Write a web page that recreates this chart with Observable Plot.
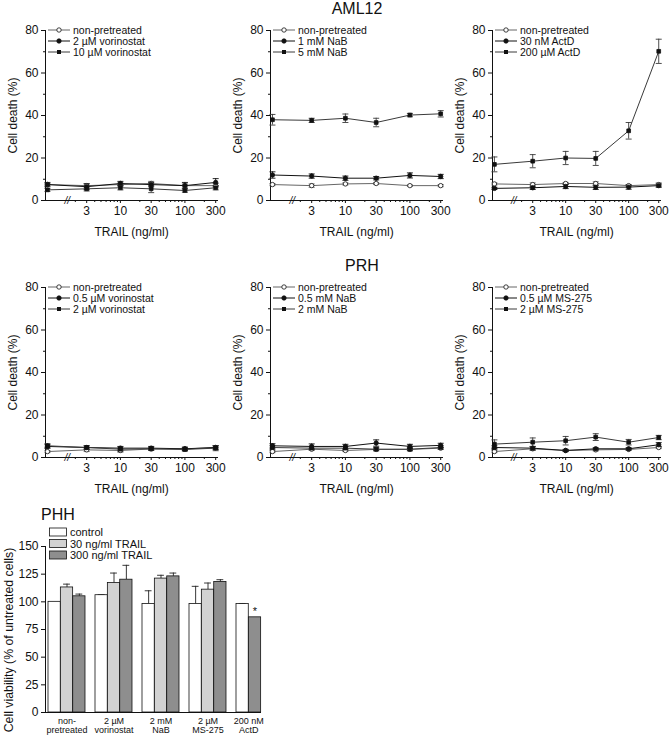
<!DOCTYPE html>
<html><head><meta charset="utf-8">
<script src="https://cdn.jsdelivr.net/npm/d3@7"></script>
<script src="https://cdn.jsdelivr.net/npm/@observablehq/plot@0.6"></script>
<style>
body{margin:0;background:#fff;}
#page{position:relative;width:669px;height:736px;overflow:hidden;background:#fff;font-family:"Liberation Sans",Arial,Helvetica,sans-serif;}
#page > div.plot{position:absolute;}
#overlay{position:absolute;left:0;top:0;pointer-events:none;}
</style></head><body><div id="page"></div>
<script>
// ---------- data ----------
const doses = [0, 3, 10, 30, 100, 300];
const zeroDosePos = 0.74;          // where the 0 ng/ml dose sits left of the axis break
const breakPos = 1.5;              // axis break "//"
const majorXTicks = [3, 10, 30, 100, 300];
const minorXTicks = [2, 4, 5, 6, 7, 8, 9, 20, 40, 50, 60, 70, 80, 90, 200];
const majorYTicks = [0, 20, 40, 60, 80];
const minorYTicks = [10, 30, 50, 70];

// AML12 – vorinostat
const amlVorLabels = ["non-pretreated", "2 µM vorinostat", "10 µM vorinostat"];
const amlVorNp = [7.5, 7, 7.5, 8, 7, 7];       const amlVorNpErr = [0.5, 1, 0.8, 1, 0.8, 1];
const amlVorLow = [7.5, 6.5, 8, 7.5, 7, 8.5];  const amlVorLowErr = [1, 1.3, 1, 1, 1.5, 1.8];
const amlVorHigh = [5, 5.5, 6, 5.5, 4.7, 6];   const amlVorHighErr = [0.7, 1, 1, 1.8, 0.8, 1];
// AML12 – NaB
const amlNabLabels = ["non-pretreated", "1 mM NaB", "5 mM NaB"];
const amlNabNp = [7.5, 7, 7.8, 8, 7, 7];              const amlNabNpErr = [0.5, 0.8, 0.5, 0.5, 0.3, 0.5];
const amlNabLow = [12, 11.5, 10.5, 10.5, 11.8, 11.3]; const amlNabLowErr = [1.5, 1, 1, 0.8, 1.2, 1];
const amlNabHigh = [38, 37.7, 38.7, 36.7, 40.2, 40.8]; const amlNabHighErr = [2.5, 1, 2, 2, 0.8, 1.5];
// AML12 – ActD
const amlActLabels = ["non-pretreated", "30 nM ActD", "200 µM ActD"];
const amlActNp = [7.8, 7.5, 8, 8, 7, 7.5];         const amlActNpErr = [0.5, 0.8, 0.5, 0.8, 0.5, 0.8];
const amlActLow = [5.7, 6, 6.6, 6.2, 6.3, 7];      const amlActLowErr = [0.5, 0.8, 1, 1, 1, 0.8];
const amlActHigh = [17, 18.5, 20, 19.8, 32.8, 70.2]; const amlActHighErr = [3.5, 3.1, 3.1, 3.3, 3.9, 5.7];
// PRH – vorinostat
const prhVorLabels = ["non-pretreated", "0.5 µM vorinostat", "2 µM vorinostat"];
const prhVorNp = [2.8, 3.6, 3.3, 4, 4, 4.7];     const prhVorNpErr = [0.5, 0.8, 0.8, 0.5, 0.5, 0.8];
const prhVorLow = [5.2, 4.7, 4.4, 4.4, 4.1, 4.7]; const prhVorLowErr = [0.8, 0.8, 0.8, 0.8, 0.8, 0.8];
const prhVorHigh = [5.5, 4.7, 3.9, 4.1, 3.8, 4.4]; const prhVorHighErr = [1, 0.8, 1, 0.8, 0.8, 1.2];
// PRH – NaB
const prhNabLabels = ["non-pretreated", "0.5 mM NaB", "2 mM NaB"];
const prhNabNp = [2.8, 3.9, 3.3, 3.8, 3.8, 4.4];  const prhNabNpErr = [0.5, 0.5, 0.5, 0.5, 0.5, 0.5];
const prhNabLow = [5.5, 5.2, 5.2, 6.8, 5.2, 5.7]; const prhNabLowErr = [1, 1.2, 1, 1.5, 1, 1];
const prhNabHigh = [4.7, 4.4, 4.4, 3.9, 3.9, 4.7]; const prhNabHighErr = [0.8, 0.8, 0.8, 0.8, 0.8, 0.8];
// PRH – MS-275
const prhMsLabels = ["non-pretreated", "0.5 µM MS-275", "2 µM MS-275"];
const prhMsNp = [2.8, 4.1, 3.3, 3.6, 3.8, 4.7];   const prhMsNpErr = [0.5, 0.8, 0.5, 0.5, 0.5, 0.5];
const prhMsLow = [4.7, 4.4, 3.3, 4.1, 4.1, 6];    const prhMsLowErr = [0.8, 0.8, 0.5, 0.5, 0.5, 1];
const prhMsHigh = [6.3, 7.2, 7.9, 9.6, 7.2, 9.4]; const prhMsHighErr = [2, 2, 2, 1.6, 1.3, 1];

// PHH bar chart
const phhGroups = ["non-\npretreated", "2 µM\nvorinostat", "2 mM\nNaB", "2 µM\nMS-275", "200 nM\nActD"];
const phhConds = ["control", "30 ng/ml TRAIL", "300 ng/ml TRAIL"];
const phhControl = [100, 106, 98, 98, 98];   const phhControlErr = [0, 0.5, 12, 16, 0.5];
const phhT30 = [113, 117, 121, 111, null];    const phhT30Err = [3, 9, 3, 6, null];
const phhT300 = [105, 120, 123, 118, 86];     const phhT300Err = [2, 13, 3, 2, 0];
const phhT300Sig = ["", "", "", "", "*"];
const phhYTicks = [0, 25, 50, 75, 100, 125, 150];

// ---------- styling ----------
const FONT = '"Liberation Sans", Arial, Helvetica, sans-serif';
const seriesStroke = ["#666", "#111", "#3a3a3a"];
const seriesSymbol = ["circle", "circle", "square"];
const seriesFill = ["white", "#111", "#111"];
const condFill = ["#ffffff", "#d2d2d2", "#8e8e8e"];
const capSymbol = {draw(ctx, size) { const r = Math.sqrt(size / Math.PI); ctx.moveTo(-r, 0); ctx.lineTo(r, 0); }};

const page = document.getElementById("page");
const xDomain = [0.69, 320];

const panels = [
  {col: 0, row: 0, labels: amlVorLabels, vals: [amlVorNp, amlVorLow, amlVorHigh], errs: [amlVorNpErr, amlVorLowErr, amlVorHighErr]},
  {col: 1, row: 0, labels: amlNabLabels, vals: [amlNabNp, amlNabLow, amlNabHigh], errs: [amlNabNpErr, amlNabLowErr, amlNabHighErr]},
  {col: 2, row: 0, labels: amlActLabels, vals: [amlActNp, amlActLow, amlActHigh], errs: [amlActNpErr, amlActLowErr, amlActHighErr]},
  {col: 0, row: 1, labels: prhVorLabels, vals: [prhVorNp, prhVorLow, prhVorHigh], errs: [prhVorNpErr, prhVorLowErr, prhVorHighErr]},
  {col: 1, row: 1, labels: prhNabLabels, vals: [prhNabNp, prhNabLow, prhNabHigh], errs: [prhNabNpErr, prhNabLowErr, prhNabHighErr]},
  {col: 2, row: 1, labels: prhMsLabels, vals: [prhMsNp, prhMsLow, prhMsHigh], errs: [prhMsNpErr, prhMsLowErr, prhMsHighErr]}
];
const colLeft = [0, 225, 447];
const colWidth = [220, 220, 216];
const rowTop = [0, 257];
const ML = 45, MT = 30;

function place(el, left, top) {
  const d = document.createElement("div");
  d.className = "plot";
  d.style.left = left + "px"; d.style.top = top + "px";
  d.appendChild(el); page.appendChild(d);
}

for (const p of panels) {
  const rows = [];
  p.vals.forEach((vals, si) => vals.forEach((v, i) => rows.push({s: si, pos: doses[i] === 0 ? zeroDosePos : doses[i], v, e: p.errs[si][i]})));
  const marks = [
    Plot.frame({anchor: "left", stroke: "#111"}),
    Plot.frame({anchor: "bottom", stroke: "#111"}),
    Plot.axisY({ticks: majorYTicks, tickSize: 4, tickPadding: 3, label: "Cell death (%)", labelAnchor: "center", labelArrow: "none", labelOffset: 37, fontSize: 12}),
    Plot.axisY({ticks: minorYTicks, tickSize: 2, tickFormat: () => "", label: null}),
    Plot.axisX({ticks: majorXTicks, tickSize: 3, tickPadding: 3, tickFormat: d => String(d), label: "TRAIL (ng/ml)", labelAnchor: "center", labelArrow: "none", labelOffset: 35, fontSize: 12}),
    Plot.axisX({ticks: minorXTicks, tickSize: 2, tickFormat: () => "", label: null}),
    Plot.text(["//"], {x: breakPos, y: 0, text: d => d, fontSize: 10, fontStyle: "italic", fill: "#111"})
  ];
  for (let si = 0; si < 3; si++) {
    const sr = rows.filter(r => r.s === si);
    marks.push(Plot.line(sr, {x: "pos", y: "v", stroke: seriesStroke[si], strokeWidth: 1}));
    marks.push(Plot.ruleX(sr, {x: "pos", y1: d => d.v - d.e, y2: d => d.v + d.e, stroke: seriesStroke[si], strokeWidth: 0.9}));
    marks.push(Plot.dot(sr, {x: "pos", y: d => d.v + d.e, symbol: capSymbol, r: 3, fill: "none", stroke: seriesStroke[si], strokeWidth: 0.9}));
    marks.push(Plot.dot(sr, {x: "pos", y: d => d.v - d.e, symbol: capSymbol, r: 3, fill: "none", stroke: seriesStroke[si], strokeWidth: 0.9}));
  }
  for (let si = 0; si < 3; si++) {
    const sr = rows.filter(r => r.s === si);
    marks.push(Plot.dot(sr, {x: "pos", y: "v", symbol: seriesSymbol[si], r: si === 2 ? 2.1 : 2.2, fill: seriesFill[si], stroke: "#111", strokeWidth: 0.8}));
  }
  const chart = Plot.plot({
    width: colWidth[p.col], height: 244, marginLeft: ML, marginRight: 3, marginTop: MT, marginBottom: 44,
    style: {fontFamily: FONT, fontSize: "12px", color: "#111", background: "transparent", overflow: "visible"},
    x: {type: "log", domain: xDomain},
    y: {domain: [0, 80]},
    marks
  });
  place(chart, colLeft[p.col], rowTop[p.row]);
}

// ---------- PHH bar chart ----------
const barRows = [];
phhGroups.forEach((g, gi) => {
  const vals = [phhControl[gi], phhT30[gi], phhT300[gi]];
  const errs = [phhControlErr[gi], phhT30Err[gi], phhT300Err[gi]];
  let slot = 0;
  vals.forEach((v, ci) => {
    if (v == null) return;
    barRows.push({group: g, cond: ci, slot, v, e: errs[ci], sig: ci === 2 ? phhT300Sig[gi] : ""});
    slot++;
  });
});
const bRange = [48, 273.5], bPadInner = 0.2128;
const bStep = (bRange[1] - bRange[0]) / (phhGroups.length - bPadInner);
const bBand = bStep * (1 - bPadInner);
const w = bBand / 3;
const barMarks = [
  Plot.frame({anchor: "left", stroke: "#111"}),
  Plot.frame({anchor: "bottom", stroke: "#111"}),
  Plot.axisY({ticks: phhYTicks, tickSize: 4, tickPadding: 3, label: null, fontSize: 12}),
  Plot.axisX(phhGroups.slice(0, 4), {tickSize: 0, tickPadding: 4, label: null, fontSize: 9, lineHeight: 1.1}),
  Plot.axisX(phhGroups.slice(4), {tickSize: 0, tickPadding: 4, label: null, fontSize: 9, lineHeight: 1.1, dx: -w / 2})
];
for (let k = 0; k < 3; k++) {
  const sr = barRows.filter(r => r.slot === k);
  const er = sr.filter(r => r.e > 0);
  barMarks.push(Plot.ruleX(er, {x: "group", y1: "v", y2: d => d.v + d.e, dx: (k - 1) * w, stroke: "#222", strokeWidth: 0.9}));
  barMarks.push(Plot.tickY(er, {x: "group", y: d => d.v + d.e, insetLeft: k * w + w * 0.22, insetRight: (2 - k) * w + w * 0.22, stroke: "#222", strokeWidth: 0.9}));
  barMarks.push(Plot.barY(sr, {x: "group", y: "v", fill: d => condFill[d.cond], stroke: "#111", strokeWidth: 0.8, insetLeft: k * w, insetRight: (2 - k) * w}));
  barMarks.push(Plot.text(sr.filter(r => r.sig), {x: "group", y: "v", text: "sig", dx: (k - 1) * w, dy: -6, fontSize: 11, fill: "#111"}));
}
const barChart = Plot.plot({
  width: 263, height: 236, marginLeft: 45, marginRight: 3, marginTop: 46, marginBottom: 24,
  style: {fontFamily: FONT, fontSize: "12px", color: "#111", background: "transparent", overflow: "visible"},
  x: {type: "band", domain: phhGroups, range: bRange, paddingInner: bPadInner, paddingOuter: 0, align: 0},
  y: {domain: [0, 150]},
  color: {type: "identity"},
  marks: barMarks
});
place(barChart, 0, 500);

// ---------- overlay: titles & legends ----------
const svg = d3.select(page).append("svg").attr("id", "overlay").attr("width", 669).attr("height", 736)
  .style("font-family", FONT).style("fill", "#111");
svg.append("text").attr("x", 357).attr("y", 14).attr("text-anchor", "middle").attr("font-size", 16).text("AML12");
svg.append("text").attr("x", 362).attr("y", 271).attr("text-anchor", "middle").attr("font-size", 16).text("PRH");
svg.append("text").attr("x", 41).attr("y", 520).attr("font-size", 16).text("PHH");
svg.append("text").attr("transform", "translate(13,640) rotate(-90)").attr("text-anchor", "middle").attr("font-size", 12.3)
  .text("Cell viability (% of untreated cells)");

for (const p of panels) {
  const ax = colLeft[p.col] + ML;
  const top = rowTop[p.row] + MT;
  p.labels.forEach((lab, i) => {
    const y = top + i * 11;
    svg.append("line").attr("x1", ax + 3).attr("x2", ax + 25).attr("y1", y).attr("y2", y).attr("stroke", seriesStroke[i]).attr("stroke-width", 1);
    if (seriesSymbol[i] === "circle") {
      svg.append("circle").attr("cx", ax + 14).attr("cy", y).attr("r", 2.2).attr("fill", seriesFill[i]).attr("stroke", "#111").attr("stroke-width", 0.8);
    } else {
      svg.append("rect").attr("x", ax + 12).attr("y", y - 2).attr("width", 4).attr("height", 4).attr("fill", "#111");
    }
    svg.append("text").attr("x", ax + 28).attr("y", y + 4).attr("font-size", 10.5).text(lab);
  });
}
phhConds.forEach((c, i) => {
  const y = 528 + i * 11.5;
  svg.append("rect").attr("x", 49.5).attr("y", y).attr("width", 17).attr("height", 8).attr("fill", condFill[i]).attr("stroke", "#111").attr("stroke-width", 0.8);
  svg.append("text").attr("x", 70).attr("y", y + 8).attr("font-size", 11).text(c);
});
</script></body></html>
